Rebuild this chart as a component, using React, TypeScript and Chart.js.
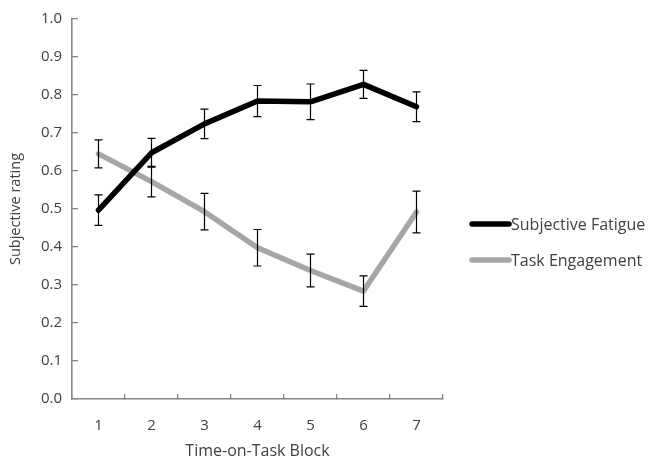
import { useEffect, useRef } from 'react';
import { Chart, registerables } from 'chart.js';

Chart.register(...registerables);

const blocks = ['1', '2', '3', '4', '5', '6', '7'];
const fatigue = [0.497, 0.648, 0.724, 0.784, 0.782, 0.828, 0.769];
const fatigueErr = [0.04, 0.038, 0.039, 0.041, 0.047, 0.037, 0.039];
const engagement = [0.645, 0.572, 0.493, 0.398, 0.338, 0.284, 0.492];
const engagementErr = [0.037, 0.04, 0.048, 0.048, 0.043, 0.04, 0.055];

const FONT = '"Open Sans", sans-serif';
const TEXT = '#404040';
const AXIS = '#868686';

// whiskers are drawn over the lines, through the chart's own scales
const errorBars = {
  id: 'errorBars',
  afterDatasetsDraw(chart: Chart) {
    const { ctx } = chart;
    const x = chart.scales.x;
    const y = chart.scales.y;
    const errs = [fatigueErr, engagementErr];
    ctx.save();
    ctx.strokeStyle = '#000';
    ctx.lineWidth = 1.2;
    chart.data.datasets.forEach((ds, di) => {
      (ds.data as number[]).forEach((v, i) => {
        const px = x.getPixelForValue(i);
        const top = y.getPixelForValue(v + errs[di][i]);
        const bottom = y.getPixelForValue(v - errs[di][i]);
        ctx.beginPath();
        ctx.moveTo(px, top);
        ctx.lineTo(px, bottom);
        ctx.moveTo(px - 4, top);
        ctx.lineTo(px + 4, top);
        ctx.moveTo(px - 4, bottom);
        ctx.lineTo(px + 4, bottom);
        ctx.stroke();
      });
    });
    ctx.restore();
  },
};

// the built-in legend can't get wide enough next to the y axis, so draw it here
const sideLegend = {
  id: 'sideLegend',
  afterDraw(chart: Chart) {
    const { ctx, chartArea } = chart;
    const midY = (chartArea.top + chartArea.bottom) / 2 + 33;
    const x0 = chartArea.right + 29;
    const rowGap = 36;
    const n = chart.data.datasets.length;
    ctx.save();
    ctx.font = `16px ${FONT}`;
    ctx.textBaseline = 'middle';
    ctx.fillStyle = TEXT;
    chart.data.datasets.forEach((ds, i) => {
      const yy = midY + (i - (n - 1) / 2) * rowGap;
      ctx.beginPath();
      ctx.strokeStyle = ds.borderColor as string;
      ctx.lineWidth = 5.5;
      ctx.lineCap = 'round';
      ctx.moveTo(x0, yy);
      ctx.lineTo(x0 + 37, yy);
      ctx.stroke();
      ctx.fillText(ds.label || '', x0 + 39, yy + 1);
    });
    ctx.restore();
  },
};

export default function App() {
  const canvasRef = useRef<HTMLCanvasElement>(null);
  const chartRef = useRef<Chart | null>(null);

  useEffect(() => {
    document.body.style.margin = '0';
    if (!canvasRef.current) return;
    const ctx = canvasRef.current.getContext('2d');
    if (!ctx) return;

    if (chartRef.current) {
      chartRef.current.destroy();
    }

    chartRef.current = new Chart(ctx, {
      type: 'line',
      data: {
        labels: blocks,
        datasets: [
          {
            label: 'Subjective Fatigue',
            data: fatigue,
            borderColor: '#000000',
            backgroundColor: '#000000',
            borderWidth: 5.5,
            borderCapStyle: 'round',
            borderJoinStyle: 'round',
            pointRadius: 0,
            tension: 0,
          },
          {
            label: 'Task Engagement',
            data: engagement,
            borderColor: '#a6a6a6',
            backgroundColor: '#a6a6a6',
            borderWidth: 5.5,
            borderCapStyle: 'round',
            borderJoinStyle: 'round',
            pointRadius: 0,
            tension: 0,
          },
        ],
      },
      options: {
        responsive: true,
        maintainAspectRatio: false,
        animation: false,
        layout: {
          padding: { top: 19, left: 0, right: 208, bottom: 0 },
        },
        scales: {
          x: {
            offset: true,
            grid: {
              offset: true,
              drawOnChartArea: false,
              tickLength: -5,
              color: AXIS,
              lineWidth: 1.3,
            },
            border: { color: AXIS, width: 1.6 },
            ticks: {
              color: TEXT,
              padding: 23,
              font: { family: FONT, size: 15 },
            },
            title: {
              display: true,
              text: 'Time-on-Task Block',
              color: TEXT,
              font: { family: FONT, size: 16 },
              padding: { top: 0, bottom: -4 },
            },
            afterFit: (scale) => {
              scale.height = 58;
            },
          },
          y: {
            min: 0,
            max: 1,
            grid: {
              drawOnChartArea: false,
              tickLength: -6,
              color: AXIS,
              lineWidth: 1.3,
            },
            border: { color: AXIS, width: 1.6 },
            ticks: {
              stepSize: 0.1,
              color: TEXT,
              padding: 16,
              font: { family: FONT, size: 15 },
              callback: (value) => Number(value).toFixed(1),
            },
            title: {
              display: true,
              text: 'Subjective rating',
              color: TEXT,
              font: { family: FONT, size: 14.5 },
              padding: { top: 7, bottom: 0 },
            },
            afterFit: (scale) => {
              scale.width = 72;
              scale.paddingTop = 0;
              scale.paddingBottom = 0;
            },
          },
        },
        plugins: {
          legend: { display: false },
          tooltip: { enabled: false },
        },
      },
      plugins: [errorBars, sideLegend],
    });

    return () => {
      if (chartRef.current) {
        chartRef.current.destroy();
        chartRef.current = null;
      }
    };
  }, []);

  return (
    <div style={{ width: 651, height: 457, position: 'relative' }}>
      <canvas ref={canvasRef} />
    </div>
  );
}
